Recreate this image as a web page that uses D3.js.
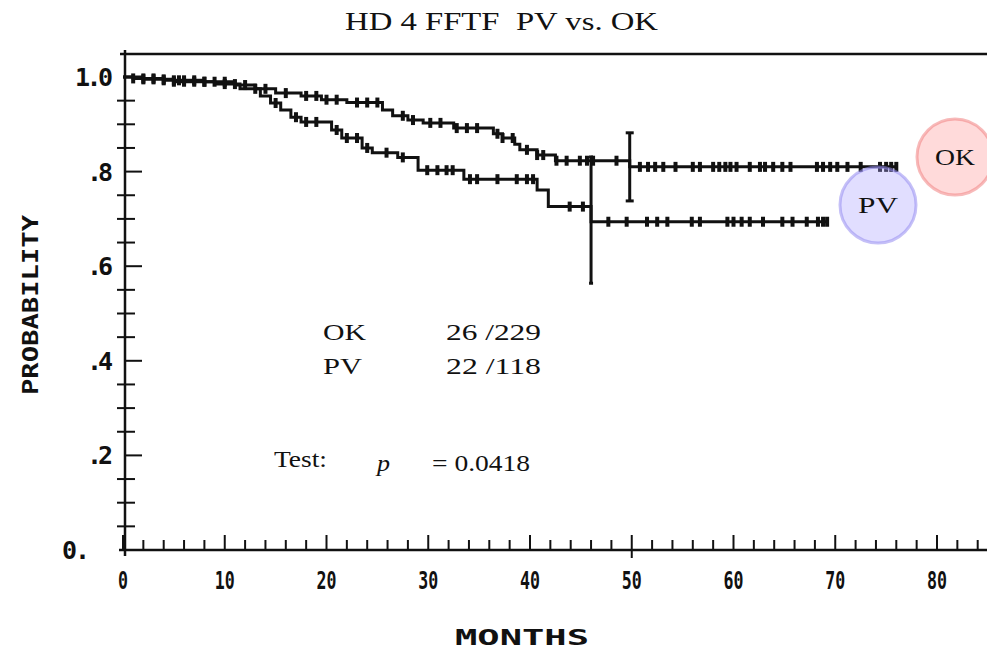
<!DOCTYPE html>
<html>
<head>
<meta charset="utf-8">
<script src="https://cdn.jsdelivr.net/npm/d3@7"></script>
<style>
  body { margin: 0; background: #fff; }
  svg { display: block; }
  .tick-label { font-family: "DejaVu Sans Mono", monospace; font-size: 25px; font-weight: bold; fill: #111; }
  .axis-title { font-family: "DejaVu Sans Mono", monospace; font-size: 22px; font-weight: bold; fill: #111; }
  .serif { font-family: "Liberation Serif", "Times New Roman", serif; fill: #111; }
</style>
</head>
<body>
<svg id="chart" width="987" height="655"></svg>
<script>
// step times (months) and survival probability, OK group
const okTimes = [0, 1, 4, 8, 11, 13, 15, 17.5, 19.5, 22, 25.5, 26.5, 28, 29.5, 32.5, 36.4, 37.3, 38.5, 39, 40.7, 42.5, 49.8];
const okProb  = [1.0, .997, .993, .99, .983, .975, .966, .96, .952, .946, .93, .918, .909, .903, .892, .88, .871, .858, .846, .835, .823, .81];
const okEnd = 76;
const okCensor = [1, 2, 3, 4, 5, 5.5, 6, 7, 8, 9, 10, 12, 14, 16, 18, 19, 20, 21, 23, 24, 25,
  27.5, 28.5, 30.2, 31.2, 32.8, 33.8, 34.8, 36.8, 37.3, 38.3, 39.7, 40.7, 41.3, 42.6, 43.6, 44.9, 45.6, 46.2, 48.5,
  50.8, 51.6, 52.3, 53.1, 54.3, 56, 56.7, 58, 58.6, 59.2, 59.7, 60.3, 61.6, 62.6, 63.1, 63.9, 64.8, 65.6,
  68.2, 68.8, 69.5, 70.2, 71.2, 72.5, 74.4, 75, 75.5, 76];

// PV group
const pvTimes = [0, 2, 5, 9, 11.5, 13.5, 14.5, 15.5, 16.5, 17.5, 20.5, 21.5, 23.5, 24.5, 27, 29, 33.5, 40.7, 41.8, 46];
const pvProb  = [1.0, .995, .99, .985, .975, .96, .945, .93, .915, .905, .888, .871, .85, .84, .83, .803, .784, .761, .726, .694];
const pvEnd = 69.2;
const pvCensor = [2, 3, 4, 5, 6, 7, 8, 10, 11, 13, 15, 17, 18, 19, 21, 22, 23, 24, 25.9, 27.5, 29.9, 30.9,
  31.8, 32.4, 34.1, 34.8, 36.8, 38.7, 39.7, 40.3, 43.9, 45.2,
  47.7, 49.5, 51.5, 52.5, 53.5, 55.9, 56.7, 59.4, 60, 60.8, 61.6, 62.9, 64.8, 65.8, 67.2, 68.3, 68.8, 69.2];

// error bars: [month, low, high]
const okBar = [49.8, .738, .882];
const pvBar = [46, .564, .831];

const xTicks = [0, 10, 20, 30, 40, 50, 60, 70, 80];
const yTicks = [0, .2, .4, .6, .8, 1.0];
const yTickLabels = ["0.", ".2", ".4", ".6", ".8", "1.0"];

const svg = d3.select("#chart");
const x = d3.scaleLinear().domain([0, 80]).range([123, 937]);
const y = d3.scaleLinear().domain([0, 1]).range([550, 77]);

// frame
svg.append("line").attr("x1", x(0) - 3).attr("x2", 987).attr("y1", 54).attr("y2", 54)
  .attr("stroke", "#111").attr("stroke-width", 2.5);
svg.append("line").attr("x1", x(0) + 2).attr("x2", x(0) + 2).attr("y1", 50).attr("y2", y(0) + 6)
  .attr("stroke", "#111").attr("stroke-width", 2.5);
svg.append("line").attr("x1", x(0) - 4).attr("x2", 987).attr("y1", y(0)).attr("y2", y(0))
  .attr("stroke", "#111").attr("stroke-width", 2.5);

// x ticks every 2 months
const xMinor = d3.range(0, 87, 2);
svg.append("g").selectAll("line").data(xMinor).enter().append("line")
  .attr("x1", d => x(d)).attr("x2", d => x(d))
  .attr("y1", d => d === 50 ? y(0) + 8 : y(0))
  .attr("y2", d => y(0) - (d % 10 === 0 ? 15 : 10))
  .attr("stroke", "#111").attr("stroke-width", 2);

svg.append("g").selectAll("text").data(xTicks).enter().append("text")
  .attr("class", "tick-label")
  .attr("x", d => x(d)).attr("y", 589)
  .attr("text-anchor", "middle")
  .attr("textLength", d => String(d).length * 10)
  .attr("lengthAdjust", "spacingAndGlyphs")
  .text(d => d);

// y ticks every 0.05
const yMinor = d3.range(0, 21).map(i => i * 0.05);
svg.append("g").selectAll("line").data(yMinor).enter().append("line")
  .attr("x1", (d, i) => x(0) + 2 + (i % 4 === 0 ? 0 : -8))
  .attr("x2", (d, i) => x(0) + 2 + (i % 4 === 0 ? 17 : 10))
  .attr("y1", d => y(d)).attr("y2", d => y(d))
  .attr("stroke", "#111").attr("stroke-width", 2);

svg.append("g").selectAll("text").data(yTicks).enter().append("text")
  .attr("class", "tick-label")
  .attr("x", d => d === 0 ? 90 : 113).attr("y", d => y(d) + 9)
  .attr("text-anchor", "end")
  .attr("textLength", d => d === 1 ? 38 : (d === 0 ? 28 : 26))
  .attr("lengthAdjust", "spacing")
  .text((d, i) => yTickLabels[i]);

// axis titles
svg.append("text").attr("class", "axis-title")
  .attr("transform", "translate(38,305) rotate(-90)")
  .attr("text-anchor", "middle")
  .attr("textLength", 180).attr("lengthAdjust", "spacingAndGlyphs")
  .text("PROBABILITY");
svg.append("text").attr("class", "axis-title")
  .attr("x", 522).attr("y", 645).attr("text-anchor", "middle")
  .attr("textLength", 134).attr("lengthAdjust", "spacingAndGlyphs")
  .text("MONTHS");

// title
svg.append("text").attr("class", "serif")
  .attr("x", 345).attr("y", 30)
  .style("font-size", "25px").attr("xml:space", "preserve")
  .attr("textLength", 313).attr("lengthAdjust", "spacingAndGlyphs")
  .text("HD 4 FFTF  PV vs. OK");

// curves
function stepData(times, probs, end) {
  const pts = times.map((t, i) => [t, probs[i]]);
  pts.push([end, probs[probs.length - 1]]);
  return pts;
}
function survAt(times, probs, t) {
  let p = probs[0];
  times.forEach((tt, i) => { if (tt <= t) p = probs[i]; });
  return p;
}
const line = d3.line().x(d => x(d[0])).y(d => y(d[1])).curve(d3.curveStepAfter);

function drawCurve(times, probs, end, censor) {
  const g = svg.append("g");
  g.append("path").datum(stepData(times, probs, end))
    .attr("d", line).attr("fill", "none")
    .attr("stroke", "#111").attr("stroke-width", 3);
  g.selectAll("rect").data(censor).enter().append("rect")
    .attr("x", d => x(d) - 2).attr("width", 4)
    .attr("y", d => y(survAt(times, probs, d)) - 5)
    .attr("height", 10)
    .attr("fill", "#111");
}
drawCurve(okTimes, okProb, okEnd, okCensor);
drawCurve(pvTimes, pvProb, pvEnd, pvCensor);

// error bars
function drawBar(b, cap) {
  const g = svg.append("g").attr("stroke", "#111");
  g.append("line").attr("x1", x(b[0])).attr("x2", x(b[0]))
    .attr("y1", y(b[1])).attr("y2", y(b[2])).attr("stroke-width", 3);
  [b[1], b[2]].forEach(v => g.append("line")
    .attr("x1", x(b[0]) - cap).attr("x2", x(b[0]) + cap)
    .attr("y1", y(v)).attr("y2", y(v)).attr("stroke-width", 3));
}
drawBar(pvBar, 2);
drawBar(okBar, 4);

// legend circles
const legend = [
  { name: "OK", cx: 955, cy: 157, fill: "rgba(255,150,150,0.35)", stroke: "rgba(240,130,130,0.55)" },
  { name: "PV", cx: 878, cy: 205, fill: "rgba(170,160,255,0.35)", stroke: "rgba(150,140,240,0.55)" }
];
const lg = svg.append("g").selectAll("g").data(legend).enter().append("g");
lg.append("circle").attr("cx", d => d.cx).attr("cy", d => d.cy).attr("r", 38)
  .attr("fill", d => d.fill).attr("stroke", d => d.stroke).attr("stroke-width", 3);
lg.append("text").attr("class", "serif")
  .attr("x", d => d.cx).attr("y", d => d.cy + 8).attr("text-anchor", "middle")
  .style("font-size", "23px")
  .attr("textLength", 40).attr("lengthAdjust", "spacingAndGlyphs")
  .text(d => d.name);

// annotations: [text, x, y, width, italic]
const notes = [
  ["OK", 323, 340, 43, false],
  ["26 /229", 446, 340, 95, false],
  ["PV", 323, 374, 39, false],
  ["22 /118", 446, 374, 95, false],
  ["Test:", 274, 467, 53, false],
  ["p", 377, 471, 13, true],
  ["= 0.0418", 432, 471, 98, false]
];
svg.append("g").selectAll("text").data(notes).enter().append("text")
  .attr("class", "serif").style("font-size", "24px")
  .attr("x", d => d[1]).attr("y", d => d[2])
  .attr("textLength", d => d[3]).attr("lengthAdjust", "spacingAndGlyphs")
  .style("font-style", d => d[4] ? "italic" : "normal")
  .text(d => d[0]);
</script>
</body>
</html>
